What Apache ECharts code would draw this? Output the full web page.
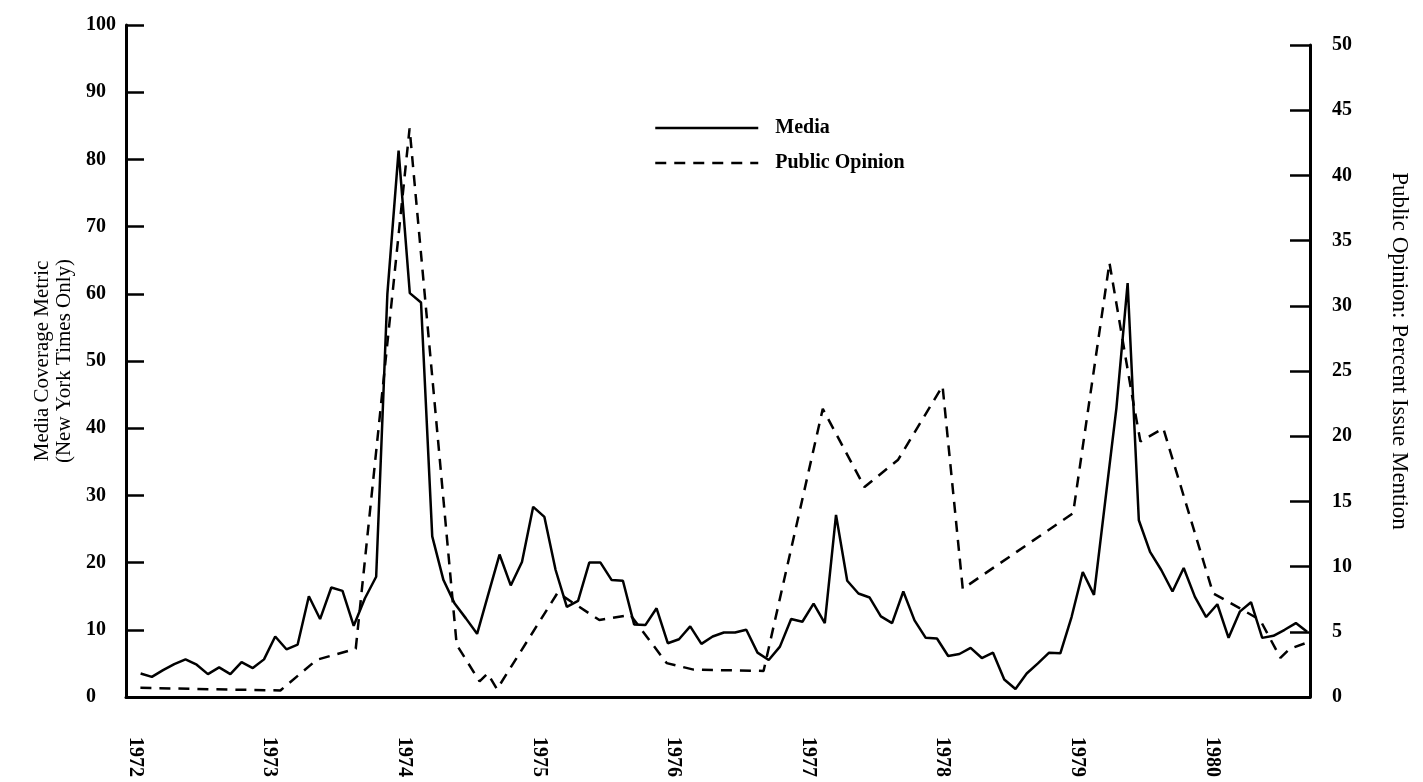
<!DOCTYPE html>
<html>
<head>
<meta charset="utf-8">
<script src="https://cdn.jsdelivr.net/npm/echarts@6/dist/echarts.min.js"></script>
<style>
  html, body { margin: 0; padding: 0; background: #fff; }
  #chart { width: 1423px; height: 782px; }
</style>
</head>
<body>
<div id="chart"></div>
<script>
// year tick labels on the time axis
const yearLabels = [1972, 1973, 1974, 1975, 1976, 1977, 1978, 1979, 1980];

// monthly media coverage, Jan 1972 onwards (left axis)
const mediaStartYear = 1972;
const mediaValues = [
  3.5, 3.0, 4.0, 4.9, 5.6, 4.8, 3.4, 4.4, 3.4, 5.2, 4.3, 5.6,
  9.0, 7.1, 7.8, 15.0, 11.6, 16.3, 15.8, 10.6, 14.7, 17.9, 60.0, 81.3,
  60.1, 58.7, 23.9, 17.4, 13.9, 11.7, 9.4, 15.3, 21.2, 16.6, 20.1, 28.3,
  26.8, 18.9, 13.4, 14.3, 20.0, 20.0, 17.4, 17.3, 10.8, 10.7, 13.2, 8.0,
  8.6, 10.5, 7.9, 9.0, 9.6, 9.6, 10.0, 6.6, 5.5, 7.5, 11.6, 11.2,
  13.9, 11.0, 27.1, 17.3, 15.4, 14.8, 12.0, 11.0, 15.7, 11.4, 8.8, 8.7,
  6.1, 6.4, 7.3, 5.8, 6.6, 2.6, 1.2, 3.5, 5.0, 6.6, 6.5, 11.9,
  18.6, 15.2, 29.1, 43.0, 61.6, 26.3, 21.6, 18.9, 15.7, 19.2, 14.9, 11.9,
  13.8, 8.8, 12.7, 14.1, 8.8, 9.1, 10.0, 11.0, 9.7
];

// survey dates (decimal years) and percent issue mention (right axis)
const opinionDates = [
  1972.04, 1973.08, 1973.35, 1973.64, 1974.04, 1974.39, 1974.56, 1974.62,
  1974.69, 1975.14, 1975.45, 1975.68, 1975.95, 1976.15, 1976.67, 1977.11,
  1977.42, 1977.67, 1978.00, 1978.15, 1978.97, 1979.24, 1979.41, 1979.47,
  1979.64, 1980.01, 1980.21, 1980.36, 1980.51, 1980.58, 1980.69
];
const opinionValues = [
  0.7, 0.5, 2.85, 3.7, 43.6, 4.0, 1.2, 1.8,
  0.6, 8.0, 5.9, 6.3, 2.6, 2.1, 2.0, 22.1,
  16.1, 18.2, 23.85, 8.3, 14.1, 33.3, 23.0, 19.6,
  20.6, 7.95, 6.8, 5.9, 3.0, 3.7, 4.1
];

const serif = "'Liberation Serif', 'DejaVu Serif', serif";
const xMin = 1971.933;
const xMax = 1980.73;

const mediaData = mediaValues.map((v, i) => [mediaStartYear + (i + 0.5) / 12, v]);
const opinionData = opinionDates.map((d, i) => [d, opinionValues[i]]);

const chart = echarts.init(document.getElementById('chart'), null, { renderer: 'canvas' });

chart.setOption({
  animation: false,
  backgroundColor: '#fff',
  textStyle: { fontFamily: serif, color: '#000' },
  grid: [
    { left: 126, right: 113, top: 25, bottom: 85 },
    { left: 126, right: 113, top: 45, bottom: 85 }
  ],
  legend: {
    orient: 'vertical',
    left: 649,
    top: 113,
    itemWidth: 103,
    itemHeight: 20,
    itemGap: 15,
    data: [
      { name: 'Media', itemStyle: { opacity: 0 } },
      { name: 'Public Opinion', itemStyle: { opacity: 0 } }
    ],
    lineStyle: { width: 2.5 },
    textStyle: {
      fontFamily: serif,
      fontSize: 20,
      fontWeight: 'bold',
      color: '#000',
      padding: [0, 0, 0, 12]
    }
  },
  xAxis: [
    {
      type: 'value',
      gridIndex: 0,
      min: xMin,
      max: xMax,
      axisLine: { show: true, onZero: false, lineStyle: { color: '#000', width: 3 } },
      axisTick: { show: false },
      splitLine: { show: false },
      axisLabel: {
        customValues: yearLabels,
        rotate: -90,
        margin: 40,
        fontFamily: serif,
        fontSize: 20,
        fontWeight: 'bold',
        color: '#000',
        formatter: v => String(Math.round(v))
      }
    },
    {
      type: 'value',
      gridIndex: 1,
      min: xMin,
      max: xMax,
      show: false
    }
  ],
  yAxis: [
    {
      type: 'value',
      gridIndex: 0,
      min: 0,
      max: 100,
      interval: 10,
      name: 'Media Coverage Metric\n(New York Times Only)',
      nameLocation: 'middle',
      nameRotate: 90,
      nameGap: 30,
      nameTextStyle: { fontFamily: serif, fontSize: 21, color: '#000', lineHeight: 22 },
      axisLine: { show: true, lineStyle: { color: '#000', width: 3 } },
      axisTick: { show: true, inside: true, length: 18, lineStyle: { color: '#000', width: 2.5 } },
      splitLine: { show: false },
      axisLabel: {
        align: 'left',
        margin: 40,
        fontFamily: serif,
        fontSize: 20,
        fontWeight: 'bold',
        color: '#000'
      }
    },
    {
      type: 'value',
      gridIndex: 1,
      position: 'right',
      min: 0,
      max: 50,
      interval: 5,
      name: 'Public Opinion: Percent Issue Mention',
      nameLocation: 'middle',
      nameRotate: -90,
      nameGap: 78,
      nameTextStyle: { fontFamily: serif, fontSize: 23, color: '#000', padding: [0, 40, 0, 0] },
      axisLine: { show: true, lineStyle: { color: '#000', width: 3 } },
      axisTick: { show: true, inside: true, length: 20, lineStyle: { color: '#000', width: 2.5 } },
      splitLine: { show: false },
      axisLabel: {
        align: 'left',
        margin: 22,
        fontFamily: serif,
        fontSize: 20,
        fontWeight: 'bold',
        color: '#000'
      }
    }
  ],
  series: [
    {
      type: 'line',
      name: 'Media',
      xAxisIndex: 0,
      yAxisIndex: 0,
      data: mediaData,
      symbol: 'none',
      showSymbol: false,
      lineStyle: { color: '#000', width: 2.5 },
      itemStyle: { color: '#000' }
    },
    {
      type: 'line',
      name: 'Public Opinion',
      xAxisIndex: 1,
      yAxisIndex: 1,
      data: opinionData,
      symbol: 'none',
      showSymbol: false,
      lineStyle: { color: '#000', width: 2.5, type: [11, 8] },
      itemStyle: { color: '#000' }
    }
  ]
});
</script>
</body>
</html>
